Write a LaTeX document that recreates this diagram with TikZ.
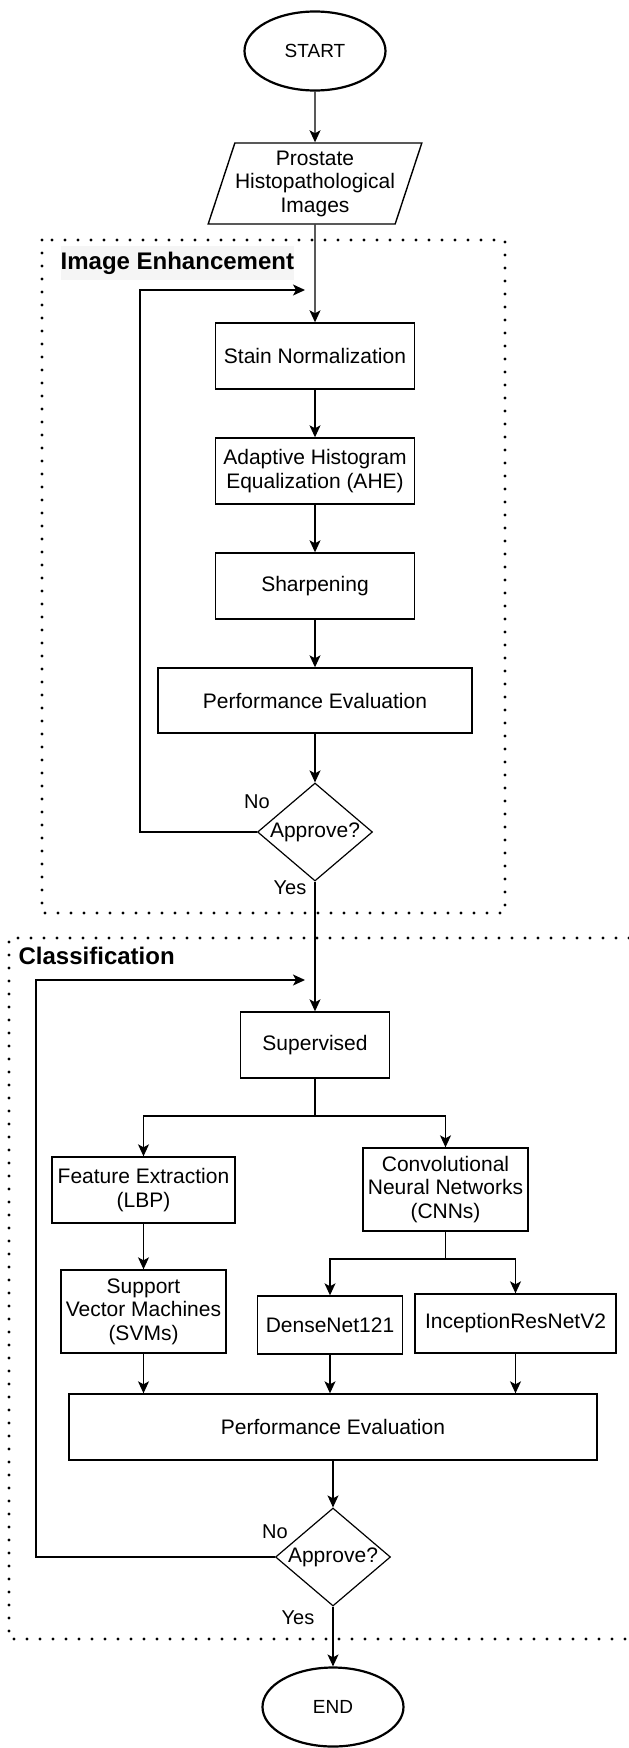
\documentclass[tikz,border=0pt]{standalone}
\usepackage{fontspec}
\setmainfont{Liberation Sans}
\usetikzlibrary{shapes.geometric,arrows.meta}

\begin{document}
\begin{tikzpicture}[x=1pt,y=-1pt,>={Stealth[length=12pt,width=11pt,inset=3pt]}]
\tikzstyle{every node}+=[inner sep=0pt, align=center, font=\fontsize{21}{23.5}\selectfont]
\tikzstyle{proc}=[draw, line width=1.4pt, rectangle]
\tikzstyle{term}=[draw, line width=2.2pt, ellipse, minimum width=141pt, minimum height=79pt, font=\fontsize{19}{21}\selectfont]
\tikzstyle{decision}=[draw, line width=1.2pt, diamond, aspect=1.17, minimum width=115pt, minimum height=98pt]
\tikzstyle{answer}=[font=\fontsize{20}{22}\selectfont]
\tikzstyle{dotbox}=[line width=3.4pt, dash pattern=on 0pt off 13pt, line cap=round]
\tikzstyle{every path}+=[line width=1.3pt]
\useasboundingbox (0,0) rectangle (629,1748);
\draw [dotbox] (42,240) rectangle (505,913);
\draw [dotbox] (629,938) -- (9,938) -- (9,1639) -- (629,1639);
\node [anchor=west, fill=black!4, inner ysep=6pt, font=\bfseries\fontsize{24}{26}\selectfont] (lblenh) at (60,263) {Image Enhancement};
\node [anchor=west, font=\bfseries\fontsize{24}{26}\selectfont] (lblcls) at (18,956) {Classification};
\node [term] (start) at (315,51) {START};
\node [draw, line width=1.4pt, trapezium, trapezium left angle=68, trapezium right angle=112, trapezium stretches=true, minimum width=214pt, minimum height=81pt] (input) at (315,183.5) {Prostate\\Histopathological\\Images};
\node [proc, minimum width=199pt, minimum height=66pt] (stain) at (315,356) {Stain Normalization};
\node [proc, minimum width=199pt, minimum height=66pt] (ahe) at (315,471) {Adaptive Histogram\\Equalization (AHE)};
\node [proc, minimum width=199pt, minimum height=66pt] (sharp) at (315,586) {Sharpening};
\node [proc, minimum width=314pt, minimum height=65pt] (evalenh) at (315,700.5) {Performance Evaluation};
\node [decision] (approveenh) at (315,832) {Approve?};
\node [proc, minimum width=149pt, minimum height=66pt] (sup) at (315,1045) {Supervised};
\node [proc, minimum width=183pt, minimum height=66pt] (feat) at (143.5,1190) {Feature Extraction\\(LBP)};
\node [proc, minimum width=165pt, minimum height=83pt] (cnn) at (445.5,1189.5) {Convolutional\\Neural Networks\\(CNNs)};
\node [proc, minimum width=165pt, minimum height=83pt] (svm) at (143.5,1311.5) {Support\\Vector Machines\\(SVMs)};
\node [proc, minimum width=145pt, minimum height=58pt] (dense) at (330,1325) {DenseNet121};
\node [proc, minimum width=201pt, minimum height=59pt] (incep) at (515.5,1323.5) {InceptionResNetV2};
\node [proc, minimum width=528pt, minimum height=66pt] (evalcls) at (333,1427) {Performance Evaluation};
\node [decision] (approvecls) at (333,1557) {Approve?};
\node [term] (end) at (333,1707) {END};
\node [answer] (noenh) at (257,802) {No};
\node [answer] (yesenh) at (290,888) {Yes};
\node [answer] (nocls) at (275,1532) {No};
\node [answer] (yescls) at (298,1618) {Yes};
\coordinate (backenh) at (305,290);
\coordinate (backcls) at (305,980);
\coordinate (splitsup) at (315,1116);
\coordinate (splitcnn) at (445.5,1259);
\draw [->] (start) -- (input);
\draw [->] (input) -- (stain);
\draw [->] (stain) -- (ahe);
\draw [->] (ahe) -- (sharp);
\draw [->] (sharp) -- (evalenh);
\draw [->] (evalenh) -- (approveenh);
\draw [->] (approveenh.west) -- ++(-117,0) |- (backenh);
\draw [->] (approveenh) -- (sup);
\draw (sup) -- (splitsup);
\draw [->] (splitsup) -| (feat);
\draw [->] (splitsup) -| (cnn);
\draw [->] (feat) -- (svm);
\draw (cnn) -- (splitcnn);
\draw [->] (splitcnn) -| (dense);
\draw [->] (splitcnn) -| (incep);
\draw [->] (svm) -- (svm |- evalcls.north);
\draw [->] (dense) -- (dense |- evalcls.north);
\draw [->] (incep) -- (incep |- evalcls.north);
\draw [->] (evalcls) -- (approvecls);
\draw [->] (approvecls.west) -- ++(-239,0) |- (backcls);
\draw [->] (approvecls) -- (end);
\end{tikzpicture}
\end{document}
